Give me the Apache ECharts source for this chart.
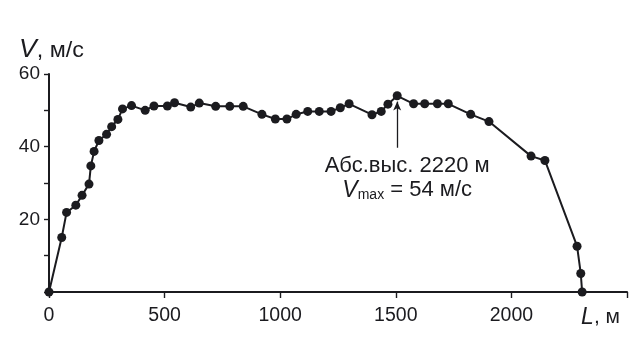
<!DOCTYPE html>
<html>
<head>
<meta charset="utf-8">
<script src="https://cdn.jsdelivr.net/npm/echarts@6/dist/echarts.min.js"></script>
<style>
  html, body { margin: 0; padding: 0; background: #fff; }
  #chart { width: 640px; height: 346px; }
</style>
</head>
<body>
<div id="chart"></div>
<script>
// Distance along the course, m
const distance = [0, 55, 76, 116, 143, 173, 181, 195, 216, 249, 271, 298, 318, 357,
  416, 454, 512, 543, 613, 650, 721, 782, 840, 921, 979, 1029, 1069, 1119, 1169,
  1220, 1260, 1298, 1397, 1437, 1466, 1506, 1577, 1625, 1680, 1727, 1824, 1903,
  2085, 2145, 2284, 2300, 2306];
// Speed, m/s
const speed = [0, 15, 21.9, 23.9, 26.6, 29.7, 34.7, 38.7, 41.7, 43.4, 45.5, 47.5, 50.4, 51.3,
  50.0, 51.2, 51.2, 52.1, 50.9, 52.0, 51.1, 51.1, 51.1, 48.9, 47.6, 47.6, 48.9, 49.7, 49.7,
  49.7, 50.7, 51.8, 48.8, 49.7, 51.7, 54, 51.8, 51.8, 51.8, 51.8, 48.9, 46.9,
  37.4, 36.2, 12.6, 5.1, 0];

const xTicks = [0, 500, 1000, 1500, 2000, 2500];
const yLabelled = [20, 40, 60];
const peakIndex = 35;
const noteLines = ['Абс.выс. 2220 м', '{i|V}{s|max} = 54 м/с'];

const ink = '#1b1b1f';
const font = 'Liberation Sans, Arial, sans-serif';

const chart = echarts.init(document.getElementById('chart'), null, { renderer: 'canvas' });

chart.setOption({
  backgroundColor: '#ffffff',
  animation: false,
  grid: { left: 49, right: 13, top: 74, bottom: 54 },
  xAxis: {
    type: 'value',
    min: xTicks[0],
    max: xTicks[xTicks.length - 1],
    interval: 500,
    axisLine: { lineStyle: { color: ink, width: 2 } },
    axisTick: { show: true, inside: false, length: 6, lineStyle: { color: ink, width: 1.4 } },
    splitLine: { show: false },
    axisLabel: {
      color: ink,
      fontFamily: font,
      fontSize: 19.5,
      margin: 14,
      alignMaxLabel: 'right',
      formatter: v => (v === xTicks[xTicks.length - 1] ? '{i|L}{t|, м}' : String(v)),
      rich: {
        i: { fontStyle: 'italic', fontSize: 23, fontFamily: font, color: ink },
        t: { fontSize: 21, fontFamily: font, color: ink, padding: [0, 7, 0, 0] }
      }
    }
  },
  yAxis: {
    type: 'value',
    min: 0,
    max: 60,
    interval: 10,
    axisLine: { show: true, lineStyle: { color: ink, width: 2 } },
    axisTick: { show: true, inside: false, length: 5, lineStyle: { color: ink, width: 1.4 } },
    splitLine: { show: false },
    axisLabel: {
      color: ink,
      fontFamily: font,
      fontSize: 19,
      margin: 9,
      formatter: v => (yLabelled.includes(v) ? String(v) : '')
    }
  },
  graphic: [
    {
      type: 'text',
      left: 19,
      top: 38,
      scaleX: 1.06,
      style: {
        text: '{i|V}{t|, м/с}',
        fill: ink,
        rich: {
          i: { fontStyle: 'italic', fontSize: 25, fontFamily: font, fill: ink },
          t: { fontSize: 22, fontFamily: font, fill: ink }
        }
      }
    }
  ],
  series: [
    {
      type: 'line',
      data: distance.map((d, i) => [d, speed[i]]),
      symbol: 'circle',
      symbolSize: 9,
      showAllSymbol: true,
      lineStyle: { color: ink, width: 2 },
      itemStyle: { color: ink },
      z: 3,
      markLine: {
        silent: true,
        symbol: ['none', 'arrow'],
        symbolSize: [6, 9],
        lineStyle: { color: ink, width: 1.3, type: 'solid' },
        label: { show: false },
        data: [[
          { coord: [distance[peakIndex], 39.7] },
          { coord: [distance[peakIndex], speed[peakIndex] - 1.6] }
        ]]
      },
      markPoint: {
        silent: true,
        symbol: 'rect',
        symbolSize: 1,
        itemStyle: { color: 'rgba(0,0,0,0)' },
        data: [{
          coord: [distance[peakIndex], 39.7],
          label: {
            show: true,
            position: 'bottom',
            distance: 6,
            offset: [10, 0],
            color: ink,
            fontFamily: font,
            fontSize: 22,
            lineHeight: 24,
            align: 'center',
            formatter: noteLines.join('\n'),
            rich: {
              i: { fontStyle: 'italic', fontSize: 23, fontFamily: font, color: ink, lineHeight: 24 },
              s: { fontSize: 14, fontFamily: font, color: ink, verticalAlign: 'bottom', padding: [9, 0, 0, 0], lineHeight: 24 }
            }
          }
        }]
      }
    }
  ]
});
</script>
</body>
</html>
